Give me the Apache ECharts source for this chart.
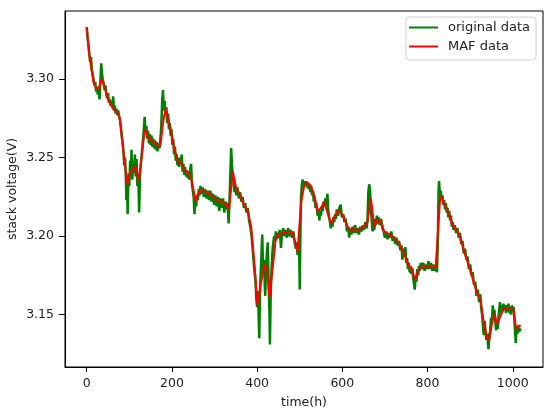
<!DOCTYPE html>
<html><head><meta charset="utf-8">
<script src="https://cdn.jsdelivr.net/npm/echarts@6/dist/echarts.min.js"></script>
<style>html,body{margin:0;padding:0;background:#fff}#c{width:550px;height:411px}</style>
</head><body><div id="c"></div>
<script>
const xTicks = [0, 200, 400, 600, 800, 1000];
const yTicks = [3.15, 3.20, 3.25, 3.30];
const seriesNames = ['original data', 'MAF data'];

const origTime = [0,2,4,6,8,10,12,14,16,18,20,22,24,26,28,30,32,34,36,38,40,42,44,46,48,50,52,54,56,58,60,62,64,66,68,70,72,74,76,78,
80,83,86,88,90,92,93,95,96,98,100,102,104,105,107,109,111,113,115,117,119,121,123,125,127,129,131,133,136,138,140,142,144,146,148,150,152,154,156,158,160,162,164,166,167,169,171,173,175,177,179,181,183,185,187,189,191,193,195,197,199,201,203,205,207,209,211,213,215,217,219,221,223,225,227,229,231,233,235,237,239,241,243,245,247,249,251,253,255,257,259,261,263,265,267,269,272,275,278,281,284,287,290,293,296,299,302,305,308,311,314,317,320,323,326,329,331,333,335,337,339,341,343,345,347,349,351,354,357,360,363,366,369,372,375,378,381,384,387,390,393,396,398,400,402,404,405,407,409,411,412,414,416,418,419,421,423,425,427,429,430,432,434,436,438,440,442,444,446,448,450,453,456,458,461,464,467,470,473,476,479,482,485,488,491,493,495,497,499,500,501,503,505,507,509,511,513,515,517,519,521,523,525,527,529,531,533,535,537,539,542,544,546,548,550,552,554,556,558,560,562,565,567,569,571,573,575,577,579,581,583,585,587,590,593,596,599,602,605,608,611,614,616,618,621,624,627,630,633,636,639,642,645,648,651,654,657,659,661,663,665,667,669,671,673,675,677,679,681,683,685,688,691,694,697,700,703,706,709,712,715,718,721,724,727,730,733,736,739,741,743,746,748,750,752,754,756,758,760,762,764,766,768,770,772,774,776,778,780,782,784,787,790,793,796,799,802,805,808,811,814,817,820,822,824,826,827,829,831,833,835,837,839,841,843,845,847,849,851,853,855,857,859,861,864,867,870,873,876,879,882,885,888,891,894,897,900,903,906,909,912,915,918,921,924,926,928,930,932,934,936,938,940,942,943,945,947,949,951,953,955,957,959,961,963,965,967,969,970,972,974,976,978,980,982,984,986,988,990,992,994,996,998,1000,1002,1004,1006,1007,1009,1011,1013,1015,1017,1019];
const origVolt = [3.333,3.326,3.322,3.316,3.311,3.314,3.306,3.303,3.300,3.296,3.298,3.292,3.295,3.290,3.293,3.287,3.298,3.310,3.303,3.299,3.297,3.293,3.296,3.290,3.288,3.291,3.285,3.287,3.283,3.286,3.282,3.289,3.280,3.283,3.278,3.281,3.277,3.280,3.276,3.274,
3.270,3.262,3.255,3.245,3.250,3.236,3.223,3.230,3.214,3.240,3.232,3.248,3.238,3.255,3.236,3.248,3.240,3.252,3.238,3.249,3.232,3.240,3.215,3.238,3.246,3.252,3.258,3.264,3.276,3.266,3.270,3.262,3.267,3.259,3.265,3.258,3.264,3.257,3.262,3.256,3.261,3.255,3.260,3.254,3.253,3.259,3.256,3.262,3.270,3.285,3.293,3.280,3.286,3.277,3.282,3.272,3.278,3.268,3.272,3.264,3.268,3.258,3.262,3.252,3.257,3.248,3.252,3.245,3.250,3.244,3.250,3.247,3.252,3.241,3.246,3.239,3.244,3.238,3.242,3.237,3.241,3.236,3.243,3.246,3.233,3.229,3.225,3.214,3.224,3.219,3.226,3.223,3.230,3.226,3.232,3.227,3.231,3.225,3.230,3.224,3.229,3.223,3.229,3.222,3.227,3.220,3.226,3.219,3.225,3.216,3.224,3.218,3.224,3.215,3.222,3.217,3.221,3.208,3.222,3.238,3.256,3.245,3.238,3.233,3.228,3.232,3.226,3.231,3.224,3.228,3.222,3.225,3.218,3.221,3.215,3.218,3.210,3.206,3.200,3.190,3.180,3.172,3.160,3.155,3.165,3.145,3.135,3.168,3.180,3.195,3.201,3.178,3.185,3.168,3.162,3.180,3.190,3.196,3.170,3.150,3.131,3.165,3.180,3.190,3.196,3.200,3.197,3.203,3.198,3.202,3.199,3.204,3.1925,3.201,3.205,3.200,3.204,3.199,3.205,3.200,3.204,3.199,3.203,3.196,3.192,3.196,3.188,3.192,3.186,3.166,3.190,3.225,3.233,3.236,3.231,3.235,3.232,3.235,3.231,3.234,3.230,3.233,3.228,3.232,3.226,3.229,3.222,3.225,3.218,3.221,3.213,3.217,3.210,3.216,3.213,3.219,3.216,3.222,3.219,3.224,3.219,3.227,3.216,3.212,3.209,3.205,3.210,3.206,3.212,3.209,3.214,3.211,3.217,3.213,3.218,3.220,3.212,3.214,3.209,3.211,3.203,3.206,3.199,3.205,3.201,3.206,3.202,3.207,3.202,3.205,3.201,3.206,3.203,3.207,3.204,3.209,3.205,3.210,3.228,3.233,3.229,3.218,3.210,3.203,3.208,3.204,3.211,3.207,3.213,3.208,3.212,3.207,3.211,3.205,3.203,3.199,3.203,3.198,3.202,3.199,3.203,3.197,3.200,3.195,3.199,3.194,3.197,3.191,3.194,3.185,3.192,3.187,3.193,3.183,3.186,3.179,3.183,3.177,3.181,3.176,3.180,3.174,3.170,3.166,3.174,3.171,3.179,3.175,3.181,3.178,3.183,3.179,3.183,3.178,3.182,3.179,3.184,3.179,3.183,3.178,3.182,3.178,3.180,3.177,3.195,3.230,3.235,3.226,3.229,3.223,3.226,3.220,3.223,3.217,3.221,3.215,3.218,3.212,3.216,3.210,3.213,3.206,3.209,3.204,3.207,3.202,3.205,3.199,3.202,3.195,3.197,3.189,3.192,3.185,3.187,3.179,3.182,3.175,3.177,3.169,3.171,3.162,3.166,3.158,3.163,3.154,3.150,3.143,3.137,3.146,3.140,3.134,3.138,3.131,3.128,3.136,3.140,3.148,3.144,3.156,3.150,3.153,3.146,3.140,3.145,3.141,3.150,3.155,3.158,3.151,3.156,3.152,3.157,3.153,3.156,3.151,3.156,3.152,3.157,3.151,3.155,3.150,3.156,3.152,3.155,3.146,3.137,3.132,3.142,3.138,3.143,3.139,3.141,3.140];

const mafTime = [0,5,10,16,22,28,35,43,50,56,62,70,77,84,90,95,100,108,115,122,128,136,144,152,160,168,173,179,185,191,199,206,214,222,230,238,244,249,256,261,269,281,292,304,316,327,334,343,351,359,370,378,386,394,401,409,417,423,429,437,444,452,460,472,483,491,495,503,511,518,526,534,542,550,557,565,573,581,589,597,604,612,620,628,635,643,651,659,667,675,682,690,698,710,721,733,741,749,756,764,770,776,784,795,807,819,822,830,838,850,858,869,877,885,897,908,916,924,932,939,945,951,957,963,971,979,990,1002,1008,1014,1019];
const mafVolt = [3.333,3.318,3.308,3.298,3.294,3.294,3.300,3.294,3.287,3.284,3.281,3.279,3.276,3.259,3.245,3.233,3.238,3.243,3.244,3.235,3.248,3.268,3.263,3.261,3.259,3.257,3.258,3.272,3.281,3.275,3.265,3.255,3.248,3.246,3.242,3.240,3.238,3.232,3.222,3.227,3.229,3.228,3.226,3.223,3.222,3.220,3.217,3.241,3.230,3.227,3.219,3.216,3.206,3.181,3.156,3.170,3.182,3.180,3.161,3.181,3.199,3.201,3.202,3.203,3.202,3.195,3.190,3.221,3.233,3.234,3.232,3.226,3.216,3.218,3.222,3.215,3.208,3.212,3.216,3.215,3.212,3.206,3.203,3.205,3.203,3.205,3.206,3.209,3.224,3.206,3.210,3.210,3.203,3.201,3.199,3.196,3.191,3.186,3.181,3.179,3.172,3.177,3.180,3.181,3.181,3.180,3.179,3.226,3.221,3.215,3.207,3.204,3.199,3.191,3.181,3.171,3.164,3.160,3.145,3.135,3.134,3.144,3.151,3.144,3.149,3.154,3.154,3.153,3.141,3.143,3.143];

const origData = origTime.map((t, i) => [t, origVolt[i]]);
const mafData = mafTime.map((t, i) => [t, mafVolt[i]]);

const FONT = 'DejaVu Sans';
const TXT = '#222';
const chart = echarts.init(document.getElementById('c'), null, {renderer: 'canvas'});
chart.setOption({
  animation: false,
  backgroundColor: '#fff',
  textStyle: {fontFamily: FONT},
  grid: {left: 65, right: 7, top: 11, bottom: 44, containLabel: false, outerBoundsMode: 'none',
    show: true, borderColor: '#000', borderWidth: 1, backgroundColor: 'transparent'},
  legend: {
    data: seriesNames,
    orient: 'vertical', right: 14, top: 17,
    icon: 'rect', itemWidth: 29, itemHeight: 2, itemGap: 6,
    padding: [4, 6, 7, 3],
    borderColor: '#d0d0d0', borderWidth: 1, borderRadius: 3,
    backgroundColor: 'rgba(255,255,255,0.8)',
    textStyle: {fontFamily: FONT, fontSize: 13, color: TXT, padding: [0, 0, 0, 5]}
  },
  xAxis: {
    type: 'value', min: -51, max: 1071,
    name: 'time(h)', nameLocation: 'middle', nameGap: 29, nameMoveOverlap: false,
    nameTextStyle: {fontFamily: FONT, fontSize: 12.5, color: TXT},
    axisLine: {show: true, onZero: false, lineStyle: {color: '#000'}},
    axisTick: {show: true, length: 5, customValues: xTicks, lineStyle: {color: '#000'}},
    axisLabel: {customValues: xTicks, margin: 10, fontFamily: FONT, fontSize: 12.5, color: TXT,
      formatter: v => String(v)},
    splitLine: {show: false}
  },
  yAxis: {
    type: 'value', min: 3.1167, max: 3.3433,
    name: 'stack voltage(V)', nameLocation: 'middle', nameGap: 52, nameMoveOverlap: false,
    nameTextStyle: {fontFamily: FONT, fontSize: 12.5, color: TXT, verticalAlign: 'middle'},
    axisLine: {show: true, onZero: false, lineStyle: {color: '#000'}},
    axisTick: {show: true, length: 6, customValues: yTicks, lineStyle: {color: '#000'}},
    axisLabel: {customValues: yTicks, margin: 11, fontFamily: FONT, fontSize: 12.5, color: TXT,
      formatter: v => v.toFixed(2)},
    splitLine: {show: false}
  },
  series: [
    {name: seriesNames[0], type: 'line', data: origData, showSymbol: false, symbol: 'none',
     lineStyle: {color: '#008000', width: 2.5}, itemStyle: {color: '#008000'}},
    {name: seriesNames[1], type: 'line', data: mafData, showSymbol: false, symbol: 'none',
     lineStyle: {color: '#ff0000', width: 2}, itemStyle: {color: '#ff0000'}}
  ]
});
</script></body></html>
